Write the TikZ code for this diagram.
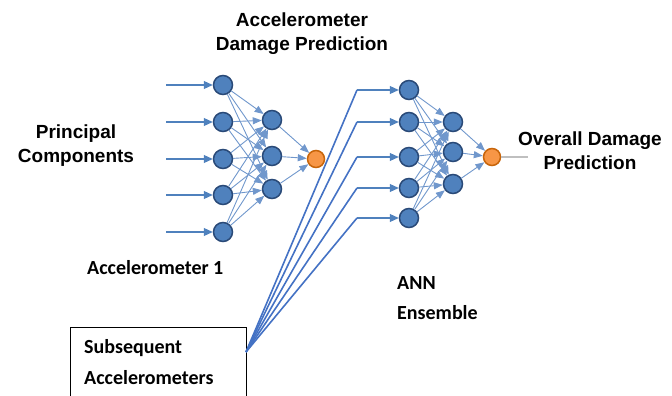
\documentclass[tikz,border=0pt]{standalone}
\usepackage{fontspec}
\setmainfont{Liberation Sans}
\newfontfamily\calib{Carlito}
\usetikzlibrary{arrows.meta}
\definecolor{nodeblue}{HTML}{4F81BD}
\definecolor{nodeedge}{HTML}{2A4A78}
\definecolor{linkblue}{HTML}{7097CC}
\definecolor{feedblue}{HTML}{4472C4}
\definecolor{outorange}{HTML}{F79646}
\definecolor{outedge}{HTML}{C8650A}
\tikzset{
  neuron/.style={circle,draw=nodeedge,line width=1.5pt,fill=nodeblue,minimum size=19pt,inner sep=0pt},
  outneuron/.style={circle,draw=outedge,line width=1.5pt,fill=outorange,minimum size=17pt,inner sep=0pt},
  inarrow/.style={draw=nodeblue,line width=1.1pt,-{Triangle[length=9pt,width=8pt]}},
  link/.style={draw=linkblue,line width=0.9pt,-{Triangle[length=9pt,width=7pt]}},
  feed/.style={draw=feedblue,line width=1.6pt},
  bigtxt/.style={font=\bfseries\fontsize{19}{24}\selectfont,align=center,inner sep=0pt},
  caltxt/.style={font=\calib\bfseries\fontsize{20}{22}\selectfont,inner sep=0pt,anchor=west}
}
\begin{document}
\begin{tikzpicture}[x=1pt,y=-1pt]
\useasboundingbox (0,0) rectangle (672,396);
% left network
\foreach \i/\y in {1/85,2/122,3/159,4/195,5/232}{
  \node[neuron] (a\i) at (223,\y) {};
  \coordinate (ai\i) at (166,\y);
}
\foreach \j/\y in {1/120,2/156,3/189}{
  \node[neuron] (b\j) at (272,\y) {};
}
\node[outneuron] (ao) at (316,159) {};
\foreach \i in {1,...,5}{
  \draw[inarrow] (ai\i) -- (a\i);
  \foreach \j in {1,2,3}{ \draw[link] (a\i) -- (b\j); }
}
\foreach \j in {1,2,3}{ \draw[link] (b\j) -- (ao); }
% right network
\foreach \i/\y in {1/90,2/122,3/157,4/188,5/218}{
  \node[neuron] (c\i) at (409,\y) {};
  \coordinate (ci\i) at (357,\y);
}
\foreach \j/\y in {1/122,2/152,3/184}{
  \node[neuron] (d\j) at (453,\y) {};
}
\node[outneuron] (co) at (492,157) {};
\coordinate (cend) at (528,157);
\foreach \i in {1,...,5}{
  \draw[inarrow] (ci\i) -- (c\i);
  \foreach \j in {1,2,3}{ \draw[link] (c\i) -- (d\j); }
}
\foreach \j in {1,2,3}{ \draw[link] (d\j) -- (co); }
\draw[draw=gray!50,line width=1.5pt] (co) -- (cend);
% subsequent box
\coordinate (boxtl) at (70,327);
\coordinate (boxtr) at (246,327);
\coordinate (boxbl) at (70,400);
\coordinate (boxbr) at (246,400);
\coordinate (feedsrc) at (246,352);
\draw[black,line width=0.8pt] (boxbl) -- (boxtl) -- (boxtr) -- (boxbr);
\foreach \i in {1,...,5}{ \draw[feed] (feedsrc) -- (ci\i); }
% texts
\node[bigtxt] (t1) at (302,34) {Accelerometer\\Damage Prediction};
\node[bigtxt] (t2) at (76,146) {Principal\\Components};
\node[bigtxt] (t3) at (590,151) {Overall Damage\\Prediction};
\node[caltxt] (t4) at (87,268) {Accelerometer 1};
\node[caltxt] (t5) at (397,283) {ANN};
\node[caltxt] (t6) at (397,313) {Ensemble};
\node[caltxt] (t7) at (84,348) {Subsequent};
\node[caltxt] (t8) at (84,378) {Accelerometers};
\end{tikzpicture}
\end{document}
